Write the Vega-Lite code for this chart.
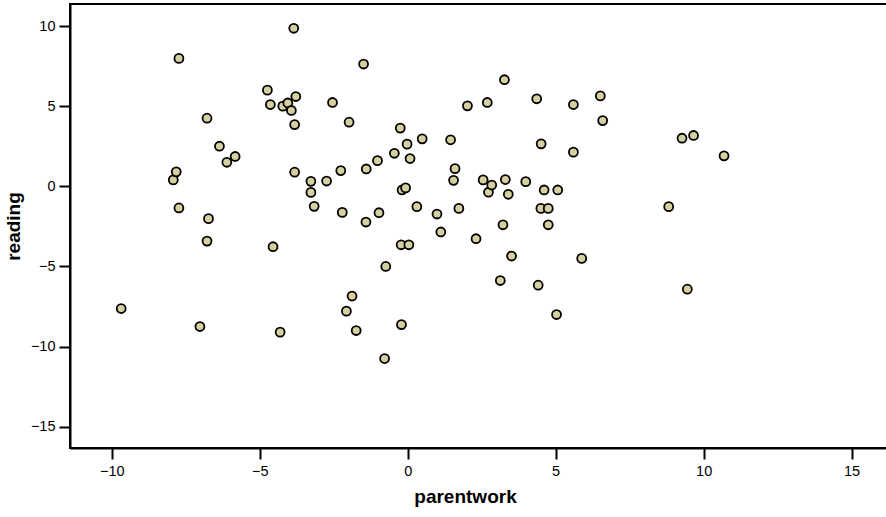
{
  "$schema": "https://vega.github.io/schema/vega-lite/v6.json",
  "width": 818,
  "height": 444,
  "autosize": "none",
  "padding": {"left": 70, "top": 4, "right": 0, "bottom": 69},
  "background": "white",
  "config": {
    "view": {"stroke": "black", "strokeWidth": 2},
    "axis": {
      "grid": false,
      "domainColor": "black",
      "domainWidth": 2,
      "tickColor": "black",
      "tickWidth": 2,
      "tickSize": 11,
      "labelFont": "Liberation Sans",
      "labelFontSize": 14.5,
      "labelColor": "black",
      "titleFont": "Liberation Sans",
      "titleFontSize": 19,
      "titleFontWeight": "bold",
      "titleColor": "black"
    }
  },
  "data": {
    "values": [
      {"parentwork": -9.68, "reading": -7.63},
      {"parentwork": -7.92, "reading": 0.4},
      {"parentwork": -7.82, "reading": 0.9},
      {"parentwork": -7.73, "reading": 7.98},
      {"parentwork": -7.73, "reading": -1.35},
      {"parentwork": -7.02, "reading": -8.75},
      {"parentwork": -6.78, "reading": 4.25},
      {"parentwork": -6.73, "reading": -2.02},
      {"parentwork": -6.78, "reading": -3.42},
      {"parentwork": -6.36, "reading": 2.5},
      {"parentwork": -6.11, "reading": 1.5},
      {"parentwork": -5.83, "reading": 1.86},
      {"parentwork": -4.74, "reading": 6.0},
      {"parentwork": -4.64, "reading": 5.1},
      {"parentwork": -4.55, "reading": -3.77},
      {"parentwork": -4.31, "reading": -9.1},
      {"parentwork": -4.22, "reading": 5.0},
      {"parentwork": -4.05, "reading": 5.2},
      {"parentwork": -3.93, "reading": 4.73},
      {"parentwork": -3.78, "reading": 5.6},
      {"parentwork": -3.82, "reading": 3.85},
      {"parentwork": -3.85, "reading": 9.86},
      {"parentwork": -3.82, "reading": 0.88},
      {"parentwork": -3.27, "reading": 0.31},
      {"parentwork": -3.27, "reading": -0.38},
      {"parentwork": -3.16, "reading": -1.25},
      {"parentwork": -2.74, "reading": 0.33},
      {"parentwork": -2.54, "reading": 5.23},
      {"parentwork": -2.26, "reading": 0.98},
      {"parentwork": -2.21, "reading": -1.63},
      {"parentwork": -1.98, "reading": 4.0},
      {"parentwork": -2.07, "reading": -7.79},
      {"parentwork": -1.88, "reading": -6.85},
      {"parentwork": -1.74, "reading": -9.0},
      {"parentwork": -1.49, "reading": 7.63},
      {"parentwork": -1.4, "reading": 1.08},
      {"parentwork": -1.41, "reading": -2.23},
      {"parentwork": -1.02, "reading": 1.6},
      {"parentwork": -0.97, "reading": -1.65},
      {"parentwork": -0.78, "reading": -10.75},
      {"parentwork": -0.74, "reading": -5.0},
      {"parentwork": -0.45, "reading": 2.06},
      {"parentwork": -0.25, "reading": 3.63},
      {"parentwork": -0.22, "reading": -3.65},
      {"parentwork": -0.21, "reading": -8.63},
      {"parentwork": -0.19, "reading": -0.23},
      {"parentwork": -0.07, "reading": -0.1},
      {"parentwork": -0.02, "reading": 2.63},
      {"parentwork": 0.04, "reading": -3.65},
      {"parentwork": 0.08, "reading": 1.73},
      {"parentwork": 0.31, "reading": -1.27},
      {"parentwork": 0.49, "reading": 2.96},
      {"parentwork": 0.99, "reading": -1.73},
      {"parentwork": 1.12, "reading": -2.85},
      {"parentwork": 1.45, "reading": 2.9},
      {"parentwork": 1.55, "reading": 0.37},
      {"parentwork": 1.6, "reading": 1.1},
      {"parentwork": 1.73, "reading": -1.38},
      {"parentwork": 2.02, "reading": 5.02},
      {"parentwork": 2.31, "reading": -3.27},
      {"parentwork": 2.55, "reading": 0.4},
      {"parentwork": 2.69, "reading": 5.23},
      {"parentwork": 2.73, "reading": -0.37},
      {"parentwork": 2.84, "reading": 0.08},
      {"parentwork": 3.13, "reading": -5.88},
      {"parentwork": 3.22, "reading": -2.4},
      {"parentwork": 3.27, "reading": 6.65},
      {"parentwork": 3.3, "reading": 0.42},
      {"parentwork": 3.4, "reading": -0.5},
      {"parentwork": 3.51, "reading": -4.35},
      {"parentwork": 3.99, "reading": 0.29},
      {"parentwork": 4.36, "reading": 5.46},
      {"parentwork": 4.41, "reading": -6.17},
      {"parentwork": 4.5, "reading": -1.38},
      {"parentwork": 4.51, "reading": 2.65},
      {"parentwork": 4.61, "reading": -0.23},
      {"parentwork": 4.75, "reading": -1.38},
      {"parentwork": 4.75, "reading": -2.4},
      {"parentwork": 5.03, "reading": -8.0},
      {"parentwork": 5.07, "reading": -0.23},
      {"parentwork": 5.6, "reading": 5.1},
      {"parentwork": 5.6, "reading": 2.13},
      {"parentwork": 5.88, "reading": -4.5},
      {"parentwork": 6.51, "reading": 5.64},
      {"parentwork": 6.59, "reading": 4.1},
      {"parentwork": 8.82, "reading": -1.27},
      {"parentwork": 9.27, "reading": 3.0},
      {"parentwork": 9.45, "reading": -6.42},
      {"parentwork": 9.66, "reading": 3.17},
      {"parentwork": 10.69, "reading": 1.9}
    ]
  },
  "mark": {
    "type": "circle",
    "fill": "#d6d0a0",
    "fillOpacity": 1,
    "opacity": 1,
    "stroke": "black",
    "strokeWidth": 1.8,
    "size": 80
  },
  "encoding": {
    "x": {
      "field": "parentwork",
      "type": "quantitative",
      "title": "parentwork",
      "scale": {"domain": [-11.41, 16.23], "nice": false, "zero": false},
      "axis": {"values": [-10, -5, 0, 5, 10, 15], "labelPadding": 5, "titlePadding": 10, "titleX": 395}
    },
    "y": {
      "field": "reading",
      "type": "quantitative",
      "title": "reading",
      "scale": {"domain": [-16.33, 11.375], "nice": false, "zero": false},
      "axis": {"values": [-15, -10, -5, 0, 5, 10], "labelPadding": 4, "titlePadding": 7}
    }
  }
}
